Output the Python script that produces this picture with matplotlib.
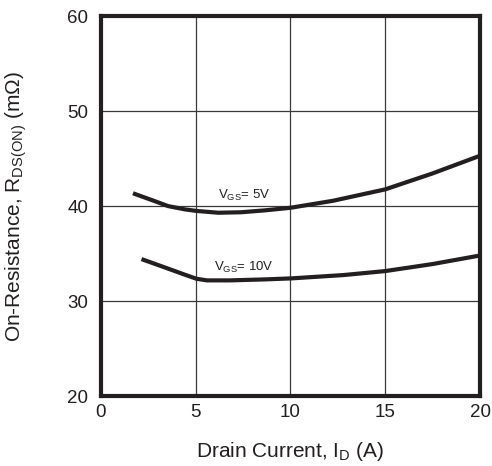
import matplotlib.pyplot as plt

plt.rcParams['font.family'] = ['Liberation Sans', 'DejaVu Sans']
plt.rcParams['mathtext.fontset'] = 'custom'
plt.rcParams['mathtext.rm'] = 'Liberation Sans'

# on-resistance vs drain current, two gate drives
id_5v = [1.7, 2.7, 3.55, 4.45, 5.05, 6.2, 7.4, 8.65, 10.0, 12.25, 15.0, 17.5, 20.0]
rds_5v = [41.35, 40.63, 40.0, 39.65, 39.49, 39.3, 39.35, 39.55, 39.82, 40.56, 41.76, 43.44, 45.3]

id_10v = [2.15, 3.3, 4.35, 5.05, 5.6, 6.8, 8.6, 10.05, 12.8, 15.0, 17.5, 20.0]
rds_10v = [34.42, 33.6, 32.84, 32.35, 32.18, 32.18, 32.28, 32.39, 32.74, 33.16, 33.9, 34.8]

x_ticks = [0, 5, 10, 15, 20]
y_ticks = [20, 30, 40, 50, 60]

INK = '#231f20'


def main():
    fig = plt.figure(figsize=(4.92, 4.66), dpi=100)
    ax = fig.add_axes([0.2047, 0.150, 0.771, 0.8155])

    ax.set_xlim(0, 20)
    ax.set_ylim(20, 60)
    ax.set_xticks(x_ticks)
    ax.set_yticks(y_ticks)
    ax.tick_params(length=0, labelsize=13.5, labelcolor=INK)
    ax.tick_params(axis='y', pad=9)
    ax.tick_params(axis='x', pad=6)
    ax.grid(True, color='#3a3a3a', linewidth=0.9)

    for s in ax.spines.values():
        s.set_linewidth(3)
        s.set_color(INK)

    ax.plot(id_5v, rds_5v, color=INK, linewidth=3, solid_capstyle='butt')
    ax.plot(id_10v, rds_10v, color=INK, linewidth=3, solid_capstyle='butt')

    ax.text(7.55, 40.75, r'V$_{\mathregular{GS}}$= 5V', fontsize=9.5, ha='center', va='baseline', color=INK)
    ax.text(7.55, 33.15, r'V$_{\mathregular{GS}}$= 10V', fontsize=9.5, ha='center', va='baseline', color=INK)

    ax.set_xlabel(r'Drain Current, I$_{\mathregular{D}}$ (A)', fontsize=15, color=INK)
    ax.set_ylabel(r'On-Resistance, R$_{\mathregular{DS(ON)}}$ (m$\Omega$)', fontsize=15, color=INK)
    ax.xaxis.set_label_coords(0.5, -0.115)
    ax.yaxis.set_label_coords(-0.19, 0.5)

    plt.savefig('out.png', dpi=100)


if __name__ == '__main__':
    main()
